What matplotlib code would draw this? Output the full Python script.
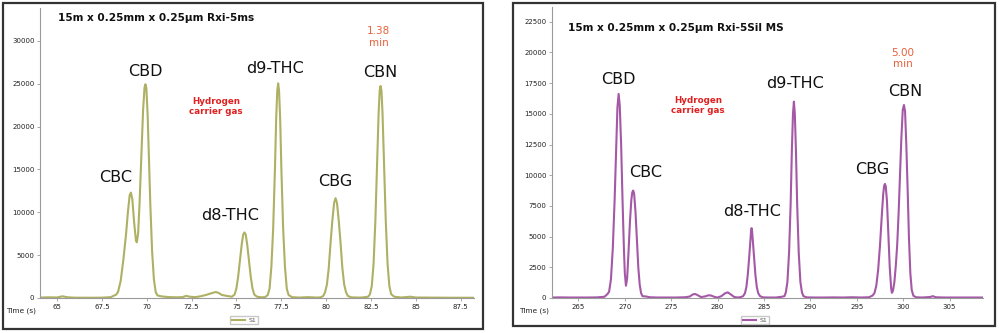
import matplotlib
matplotlib.use("Agg")
import matplotlib.pyplot as plt
from matplotlib.patches import Rectangle
from matplotlib.lines import Line2D

# ---------------- data ----------------
left_time = [64.05, 64.5, 65.0, 65.3, 65.6, 66.0, 66.5, 67.0, 67.5, 68.0, 68.3,
             68.4, 68.55, 68.7, 68.85, 68.95, 69.05, 69.12, 69.2, 69.3, 69.4, 69.45,
             69.52, 69.6, 69.7, 69.8, 69.88, 69.93, 69.98, 70.05, 70.13, 70.2, 70.3,
             70.4, 70.5, 70.6, 70.8, 71.0, 71.3, 71.7, 72.0, 72.2, 72.4, 72.7, 73.0,
             73.3, 73.6, 73.85, 74.0, 74.2, 74.45, 74.75,
             74.9, 75.0, 75.1, 75.2, 75.3, 75.38, 75.45, 75.52, 75.6, 75.7, 75.8,
             75.9, 76.0, 76.15, 76.4,
             76.6, 76.75, 76.85, 76.95, 77.05, 77.15, 77.22, 77.28, 77.33, 77.38,
             77.44, 77.51, 77.61, 77.71, 77.81, 77.91, 78.1, 78.5, 79.0, 79.5,
             79.7, 79.85, 79.95, 80.05, 80.15, 80.25, 80.35, 80.45, 80.53, 80.61,
             80.71, 80.81, 80.91, 81.01, 81.11, 81.21, 81.4, 81.8, 82.0,
             82.35, 82.45, 82.55, 82.65, 82.75, 82.85, 82.93, 82.99, 83.04, 83.09,
             83.15, 83.23, 83.33, 83.43, 83.53, 83.63, 83.8, 84.2, 84.7, 85.0,
             86.0, 87.0, 88.2]
left_signal = [50, 80, 60, 200, 80, 40, 30, 30, 40, 100, 400,
               700, 2000, 4500, 7500, 10000, 12000, 12300, 11500, 8800, 6700, 6500,
               7500, 11000, 16500, 22000, 24600, 24950, 24500, 21500, 16000, 11000, 5500,
               2200, 700, 300, 200, 150, 100, 80, 100, 250, 150, 100, 200,
               350, 550, 700, 600, 350, 250, 150,
               400, 1100, 2500, 4400, 6300, 7400, 7650, 7400, 6300, 4400, 2500,
               1100, 400, 150, 80,
               100, 350, 1100, 3600, 8000, 15000, 21000, 24200, 25050, 24200,
               21000, 15000, 8000, 3600, 1100, 350, 100, 50, 100, 50,
               80, 250, 700, 1600, 3500, 6400, 9000, 11100, 11650, 11100,
               9000, 6400, 3500, 1600, 700, 250, 80, 50, 60,
               150, 450, 1400, 4000, 9000, 16000, 21500, 24200, 24750, 24200,
               21500, 16000, 9000, 4000, 1400, 450, 150, 60, 150, 60,
               40, 30, 30]

right_time = [262.15, 263.0, 264.0, 265.0, 266.0, 267.0, 267.8, 268.1,
              268.3, 268.5, 268.7, 268.9, 269.05, 269.2, 269.33, 269.45, 269.6, 269.75,
              269.9, 270.0, 270.12, 270.25, 270.4, 270.55, 270.7, 270.8, 270.9, 271.0,
              271.15, 271.3, 271.45, 271.6, 271.75, 271.9, 272.3, 272.7, 273.5, 274.5,
              275.5, 276.5, 277.0, 277.3, 277.55, 277.8, 278.2, 278.6, 279.0, 279.3,
              279.7, 280.0, 280.4, 280.8, 281.1, 281.4, 281.8, 282.2, 282.5,
              282.75, 282.95, 283.1, 283.25, 283.4, 283.52, 283.6, 283.66, 283.72,
              283.8, 283.92, 284.07, 284.22, 284.37, 284.57, 284.9, 285.5, 286.3, 286.9,
              287.2, 287.35, 287.52, 287.7, 287.87, 288.0, 288.12, 288.22, 288.32,
              288.44, 288.57, 288.74, 288.92, 289.09, 289.25, 289.6, 290.5, 291.5,
              292.5, 293.5, 294.5, 295.5, 296.3, 296.7,
              296.9, 297.1, 297.3, 297.5, 297.7, 297.85, 297.95, 298.03, 298.12,
              298.25, 298.4, 298.55, 298.7, 298.78, 298.9,
              299.05, 299.2, 299.35, 299.5, 299.65, 299.8, 299.95, 300.08, 300.2,
              300.33, 300.48, 300.62, 300.77, 300.92, 301.1, 301.4, 302.0, 302.9,
              303.2, 303.5, 304.5, 305.5, 306.5, 307.5, 308.6]
right_signal = [40, 50, 40, 40, 40, 50, 100, 300,
                500, 1500, 4000, 8000, 11800, 15500, 16620, 15700, 12500, 8000,
                4000, 2000, 1000, 1600, 3800, 6200, 8000, 8600, 8750, 8500,
                7000, 4700, 2500, 1100, 400, 150, 120, 60, 40, 40,
                40, 60, 120, 280, 330, 250, 80, 120, 220, 200,
                80, 40, 150, 380, 460, 300, 80, 40, 80,
                150, 400, 900, 1900, 3300, 4600, 5400, 5690, 5400,
                4600, 3300, 1900, 900, 400, 150, 50, 40, 40, 100,
                150, 450, 1300, 3700, 7700, 12000, 15000, 15990, 15000,
                12000, 7700, 3700, 1300, 450, 150, 50, 40, 40,
                50, 40, 60, 40, 60, 200,
                400, 1000, 2300, 4300, 6800, 8500, 9150, 9290, 9100,
                7900, 5200, 2500, 800, 420, 600,
                1300, 2600, 4300, 6800, 9800, 13000, 15300, 15720, 15200,
                12600, 8800, 4900, 2000, 650, 180, 60, 40, 80,
                150, 60, 40, 40, 40, 40, 40]

peak_names = ["CBC", "CBD", "d8-THC", "d9-THC", "CBG", "CBN"]
left_label_x = [68.24, 69.92, 74.66, 77.18, 80.53, 83.04]
left_label_y = [14120, 26490, 9686, 26840, 13540, 26370]
right_label_x = [272.27, 269.26, 283.7, 288.33, 296.63, 300.18]
right_label_y = [10190, 17755, 7015, 17430, 10430, 16780]

left_ticks_x = [65, 67.5, 70, 72.5, 75, 77.5, 80, 82.5, 85, 87.5]
left_ticks_y = [0, 5000, 10000, 15000, 20000, 25000, 30000]
right_ticks_x = [265, 270, 275, 280, 285, 290, 295, 300, 305]
right_ticks_y = [0, 2500, 5000, 7500, 10000, 12500, 15000, 17500, 20000, 22500]

left_title = "15m x 0.25mm x 0.25µm Rxi-5ms"
right_title = "15m x 0.25mm x 0.25µm Rxi-5Sil MS"
left_time_note = "1.38\nmin"
right_time_note = "5.00\nmin"
gas_note = "Hydrogen\ncarrier gas"

left_color = "#aeb064"
right_color = "#a458a6"

# ---------------- drawing ----------------
fig = plt.figure(figsize=(10, 3.33), dpi=100)
W, H = 1000.0, 333.0

# outer panel borders
for (x0, y0, x1, y1) in [(3, 3, 483, 329), (513, 3, 995, 326)]:
    fig.patches.append(Rectangle((x0 / W, 1 - y1 / H), (x1 - x0) / W, (y1 - y0) / H,
                                 transform=fig.transFigure, fill=False,
                                 edgecolor="#333333", linewidth=1.6))


def make_axes(px_left, px_right, py_top, py_bottom):
    return fig.add_axes([px_left / W, 1 - py_bottom / H,
                         (px_right - px_left) / W, (py_bottom - py_top) / H])


def style(ax, xt, yt, xlim, ylim):
    ax.set_xlim(*xlim)
    ax.set_ylim(*ylim)
    ax.set_xticks(xt)
    ax.set_xticklabels(["%g" % v for v in xt])
    ax.set_yticks(yt)
    for s in ["top", "right"]:
        ax.spines[s].set_visible(False)
    for s in ["left", "bottom"]:
        ax.spines[s].set_color("#9a9a9a")
        ax.spines[s].set_linewidth(0.8)
    ax.tick_params(axis="both", labelsize=5, colors="#9a9a9a", labelcolor="#222222",
                   length=2, width=0.6, pad=2)
    ax.patch.set_alpha(0)
    ax.text(-0.008, -0.045, "Time (s)", transform=ax.transAxes, ha="right", va="center",
            fontsize=5.3, color="#222222")


axL = make_axes(40, 474, 8, 298)
axL.plot(left_time, left_signal, color=left_color, linewidth=1.5)
style(axL, left_ticks_x, left_ticks_y, (64.05, 88.25), (0, 33850))
for n, x, y in zip(peak_names, left_label_x, left_label_y):
    axL.text(x, y, n, ha="center", va="center", fontsize=11.5, color="#111111")
axL.text(65.06, 32680, left_title, ha="left", va="center", fontsize=7.6, fontweight="bold",
         color="#111111")
axL.text(73.88, 22400, gas_note, ha="center", va="center", fontsize=6.3, fontweight="bold",
         color="#e02020", linespacing=1.15)
axL.text(82.93, 30460, left_time_note, ha="center", va="center", fontsize=7.5,
         color="#e8603c", linespacing=1.15)

axR = make_axes(552, 983, 7, 298)
axR.plot(right_time, right_signal, color=right_color, linewidth=1.5)
style(axR, right_ticks_x, right_ticks_y, (262.15, 308.6), (0, 23700))
for n, x, y in zip(peak_names, right_label_x, right_label_y):
    axR.text(x, y, n, ha="center", va="center", fontsize=11.5, color="#111111")
axR.text(263.87, 21990, right_title, ha="left", va="center", fontsize=7.6, fontweight="bold",
         color="#111111")
axR.text(277.88, 15640, gas_note, ha="center", va="center", fontsize=6.3, fontweight="bold",
         color="#e02020", linespacing=1.15)
axR.text(299.97, 19500, right_time_note, ha="center", va="center", fontsize=7.5,
         color="#e8603c", linespacing=1.15)

# small legends below each plot
for cx, col in [(244, left_color), (755, right_color)]:
    fig.legend(handles=[Line2D([], [], color=col, linewidth=1.5, label="S1")],
               loc="center", bbox_to_anchor=(cx / W, 1 - 320 / H), fontsize=4.5,
               frameon=True, edgecolor="#bbbbbb", fancybox=False, handlelength=2.2,
               handletextpad=0.5, borderpad=0.25, labelcolor="#555555")

fig.savefig("out.png", dpi=100)
